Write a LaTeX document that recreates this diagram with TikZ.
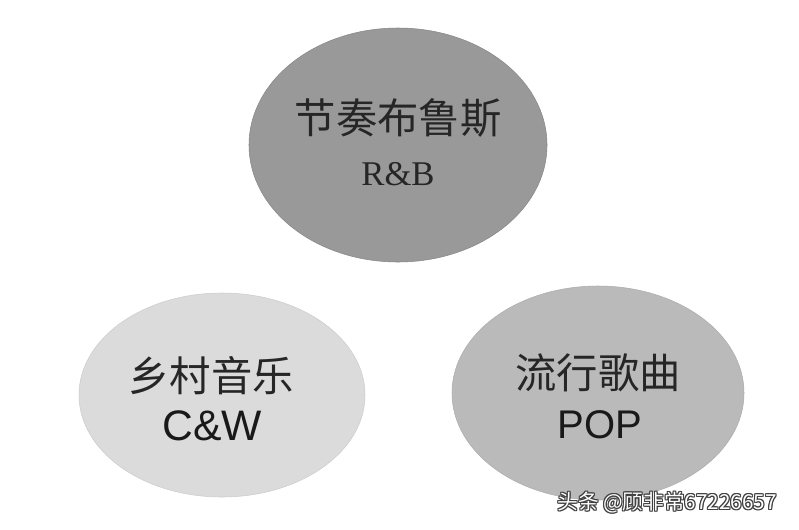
\documentclass[tikz,border=0pt]{standalone}
\usepackage{fontspec}
\usepackage{xcolor}
\usetikzlibrary{shapes.geometric}
\newfontfamily\cjk{Noto Sans CJK SC}
\newfontfamily\serifen{Liberation Serif}
\newfontfamily\sansen{Liberation Sans}

\begin{document}
\begin{tikzpicture}[x=0.75pt,y=-0.75pt,
    genre/.style={ellipse, inner sep=0pt},
    zhtext/.style={font=\cjk\fontsize{31pt}{31pt}\selectfont, text=black!85, inner sep=0pt}]
  \useasboundingbox[fill=white] (0,0) rectangle (799,529);

  % three ellipses
  \node[genre, fill=black!40, draw=black!47, minimum width=223.5pt, minimum height=175.5pt] (rnb) at (398,145) {};
  \node[genre, fill=black!14, draw=black!20, minimum width=214.5pt, minimum height=153pt] (cw) at (222,395) {};
  \node[genre, fill=black!27, draw=black!32, minimum width=219pt, minimum height=160.5pt] (pop) at (598,393) {};

  % labels
  \node[zhtext] (rnbzh) at (398,118) {节奏布鲁斯};
  \node[anchor=base, inner sep=0pt, font=\serifen\fontsize{26pt}{26pt}\selectfont, text=black!85] (rnben) at (398,185) {R\&B};

  \node[zhtext] (cwzh) at (211,376) {乡村音乐};
  \node[anchor=base, inner sep=0pt, font=\sansen\fontsize{32pt}{32pt}\selectfont, text=black!90] (cwen) at (212,440) {C\&W};

  \node[zhtext] (popzh) at (598,373) {流行歌曲};
  \node[anchor=base, inner sep=0pt, font=\sansen\fontsize{30pt}{30pt}\selectfont, text=black!90] (popen) at (600,438) {POP};

  % watermark
  \foreach \dx/\dy [count=\i] in {-1/0,1/0,0/-1,0/1,-1/-1,1/1,-1/1,1/-1}
    \node[inner sep=0pt, font=\cjk\fontsize{15.5pt}{15.5pt}\selectfont, text=black!75] (mark\i) at (667+\dx,503+\dy) {头条 @顾非常67226657};
  \node[inner sep=0pt, font=\cjk\fontsize{15.5pt}{15.5pt}\selectfont, text=white] (mark) at (667,503) {头条 @顾非常67226657};
\end{tikzpicture}
\end{document}
